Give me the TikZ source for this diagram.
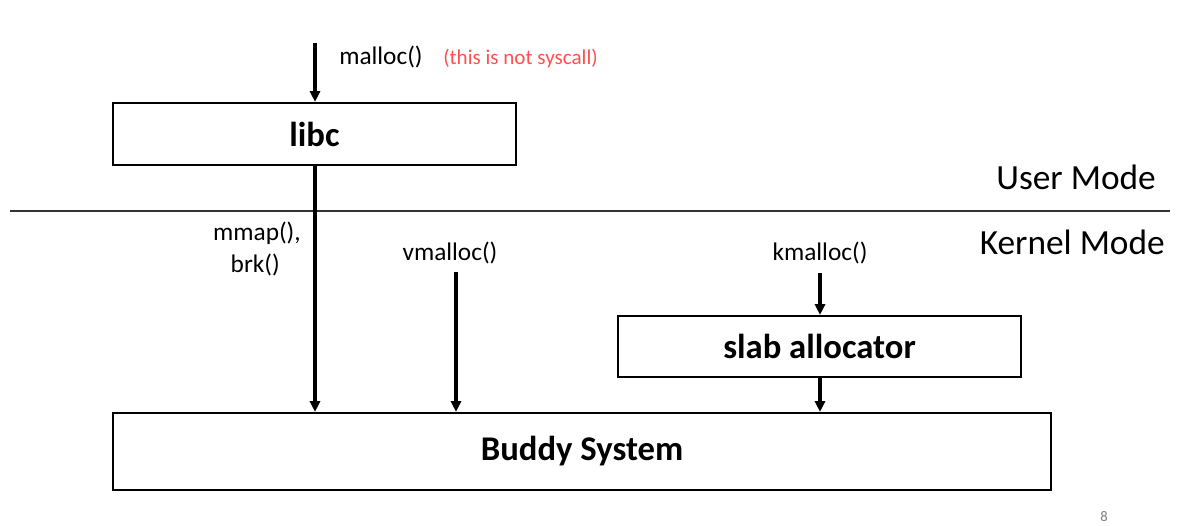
\documentclass[tikz,border=0pt]{standalone}
\usepackage{fontspec}
\setmainfont{Carlito}
\usetikzlibrary{arrows.meta}
\begin{document}
\begin{tikzpicture}[x=0.75pt,y=-0.75pt,
  box/.style={draw=black,line width=1.7pt,inner sep=0pt,font=\fontsize{26}{30}\selectfont\bfseries},
  arr/.style={line width=2.5pt,-{Triangle[length=8pt,width=7.5pt]}},
  lbl/.style={font=\fontsize{19}{23}\selectfont,inner sep=0pt},
  mode/.style={font=\fontsize{26.5}{31}\selectfont,inner sep=0pt}]
\useasboundingbox (0,0) rectangle (1185,525);
\fill[white] (0,0) rectangle (1185,525);
% boxes
\node[box,minimum width=403*0.75pt,minimum height=62*0.75pt] (libc) at (314.5,134) {libc};
\node[box,minimum width=403*0.75pt,minimum height=61*0.75pt] (slab) at (819.5,346.5) {slab allocator};
\node[box,minimum width=938*0.75pt,minimum height=77*0.75pt] (buddy) at (582,451.5) {Buddy System};
% separator
\coordinate (sepL) at (10,211);
\coordinate (sepR) at (1170,211);
\draw[line width=1pt,black!80] (sepL) -- (sepR);
% labels
\node[mode,anchor=east] (user) at (1156,177) {User Mode};
\node[mode,anchor=east] (kernel) at (1165,242) {Kernel Mode};
\node[lbl,anchor=west] (malloc) at (339,57) {malloc()};
\node[lbl,anchor=west,text={rgb,255:red,255;green,80;blue,80},font=\fontsize{15.8}{19}\selectfont] (note) at (443,58) {(this is not syscall)};
\node[lbl,anchor=east] (mmap) at (301,233) {mmap(),};
\node[lbl,anchor=east] (brk) at (280,265) {brk()};
\node[lbl] (vmalloc) at (450,253) {vmalloc()};
\node[lbl] (kmalloc) at (820,253) {kmalloc()};
\node[font=\fontsize{11}{13}\selectfont,text=black!50,inner sep=0pt] (page) at (1104,517) {8};
% arrows
\coordinate (mtop) at (315,43);
\coordinate (vtop) at (456,272);
\coordinate (ktop) at (820,273);
\draw[arr] (mtop) -- (mtop |- libc.north);
\draw[arr] (libc.south -| mtop) -- (mtop |- buddy.north);
\draw[arr] (vtop) -- (vtop |- buddy.north);
\draw[arr] (ktop) -- (ktop |- slab.north);
\draw[arr] (slab.south -| ktop) -- (ktop |- buddy.north);
\end{tikzpicture}
\end{document}
